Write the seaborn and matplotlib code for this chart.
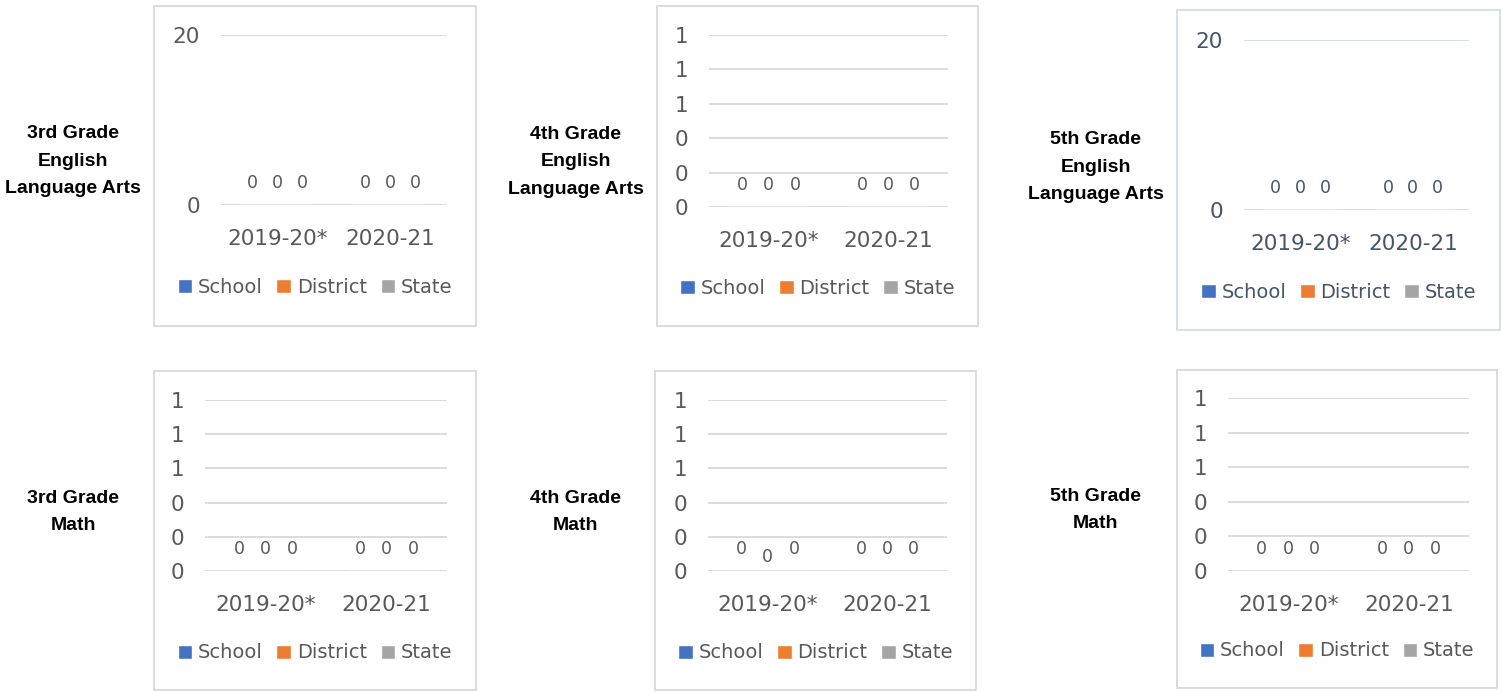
import matplotlib
matplotlib.use("Agg")
import matplotlib.pyplot as plt
from matplotlib.patches import Rectangle
from matplotlib.ticker import FuncFormatter
import numpy as np
import pandas as pd
import seaborn as sns

# ---------------- data ----------------
years = ["2019-20*", "2020-21"]
groups = ["School", "District", "State"]
colors = ["#4472C4", "#ED7D31", "#A5A5A5"]

panel_titles = [
    "3rd Grade\nEnglish\nLanguage Arts",
    "4th Grade\nEnglish\nLanguage Arts",
    "5th Grade\nEnglish\nLanguage Arts",
    "3rd Grade\nMath",
    "4th Grade\nMath",
    "5th Grade\nMath",
]

# values[group][year]
ela3_values = [[0, 0], [0, 0], [0, 0]]
ela4_values = [[0, 0], [0, 0], [0, 0]]
ela5_values = [[0, 0], [0, 0], [0, 0]]
math3_values = [[0, 0], [0, 0], [0, 0]]
math4_values = [[0, 0], [0, 0], [0, 0]]
math5_values = [[0, 0], [0, 0], [0, 0]]
all_values = [ela3_values, ela4_values, ela5_values, math3_values, math4_values, math5_values]

# y-axis maxima and tick step per panel
y_max = [20, 1, 20, 1, 1, 1]
y_step = [20, 0.2, 20, 0.2, 0.2, 0.2]

# ---------------- layout (pixels) ----------------
W, H = 1503, 692
boxes = [(154, 6, 476, 326), (657, 6, 978, 326), (1177, 10, 1500, 330),
         (154, 371, 476, 690), (655, 371, 976, 690), (1177, 370, 1497, 688)]
axes_px = [(221, 35, 447, 205), (709, 35, 948, 207), (1244, 40, 1469, 210),
           (205, 400, 447, 571), (708, 400, 947, 571), (1228, 398, 1469, 571)]
label_pos = [(73, 161), (576, 162), (1096, 167), (73, 512), (576, 512), (1096, 510)]
legend_y = [287, 288, 292, 653, 653, 651]
text_colors = ["#595959", "#595959", "#44546A", "#595959", "#595959", "#595959"]
grid_colors = ["#D9D9D9", "#D9D9D9", "#D6DCE5", "#D9D9D9", "#D9D9D9", "#D9D9D9"]
border_colors = ["#D9D9D9", "#D9D9D9", "#D6DCE5", "#D9D9D9", "#D9D9D9", "#D9D9D9"]
label_offsets = {(4, 1, 0): 10}

sns.set_theme(style="white")
plt.rcParams["font.family"] = ["DejaVu Sans"]

fig = plt.figure(figsize=(W / 100, H / 100), dpi=100)

for i in range(6):
    bx0, by0, bx1, by1 = boxes[i]
    fig.patches.append(Rectangle((bx0 / W, 1 - by1 / H), (bx1 - bx0) / W, (by1 - by0) / H,
                                 transform=fig.transFigure, fill=False,
                                 edgecolor=border_colors[i], linewidth=1.3, zorder=0))
    lx, ly = label_pos[i]
    fig.text(lx / W, 1 - ly / H, panel_titles[i], ha="center", va="center",
             fontsize=14, fontweight="bold", family=["Liberation Sans", "DejaVu Sans"],
             color="black", linespacing=1.8)

    ax0, ay0, ax1, ay1 = axes_px[i]
    ax = fig.add_axes([ax0 / W, 1 - ay1 / H, (ax1 - ax0) / W, (ay1 - ay0) / H])
    vals = all_values[i]
    df = pd.DataFrame({
        "Year": [y for g in groups for y in years],
        "Group": [g for g in groups for y in years],
        "Value": [vals[gi][yi] for gi in range(len(groups)) for yi in range(len(years))],
    })
    sns.barplot(data=df, x="Year", y="Value", hue="Group", order=years, hue_order=groups,
                palette=colors, saturation=1, width=0.66, errorbar=None, ax=ax, zorder=3)
    tc = text_colors[i]
    ax.set_ylim(0, y_max[i])
    ax.set_yticks(np.arange(0, y_max[i] + y_step[i] / 2, y_step[i]))
    ax.yaxis.set_major_formatter(FuncFormatter(lambda v, p: f"{v:.0f}"))
    ax.set_xlabel("")
    ax.set_ylabel("")
    for s in ax.spines.values():
        s.set_visible(False)
    ax.grid(axis="y", color=grid_colors[i], linewidth=1.3, zorder=0)
    ax.set_axisbelow(True)
    ax.tick_params(axis="y", length=0, pad=15, labelsize=15.5, labelcolor=tc)
    ax.tick_params(axis="x", length=0, pad=17, labelsize=15.5, labelcolor=tc)
    ax.patch.set_alpha(0)

    for ci, cont in enumerate(ax.containers):
        for bi, bar in enumerate(cont):
            off = label_offsets.get((i, ci, bi), 16)
            ax.annotate(f"{bar.get_height():.0f}",
                        (bar.get_x() + bar.get_width() / 2, bar.get_height()),
                        xytext=(0, off), textcoords="offset points", ha="center", va="center",
                        fontsize=12.5, color=tc, annotation_clip=False)

    handles, labels = ax.get_legend_handles_labels()
    if ax.get_legend() is not None:
        ax.get_legend().remove()
    cx = (bx0 + bx1) / 2 / W
    leg = ax.legend(handles, labels, loc="center", bbox_to_anchor=(cx, 1 - legend_y[i] / H),
                    bbox_transform=fig.transFigure, ncol=3, frameon=False, fontsize=14,
                    handlelength=0.75, handleheight=0.75, handletextpad=0.3,
                    columnspacing=0.7, borderaxespad=0)
    for t in leg.get_texts():
        t.set_color(tc)

fig.savefig("out.png", dpi=100)
